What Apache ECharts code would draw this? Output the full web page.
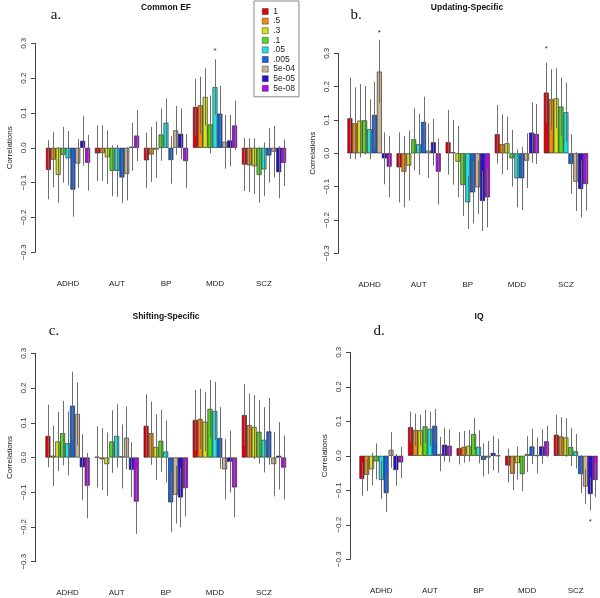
<!DOCTYPE html>
<html><head><meta charset="utf-8">
<script src="https://cdn.jsdelivr.net/npm/echarts@6/dist/echarts.min.js"></script>
<style>html,body{margin:0;padding:0;background:#fff}#c{width:600px;height:598px}</style>
</head><body><div id="c"></div>
<script>
// ---------- data ----------
const categories = ['ADHD', 'AUT', 'BP', 'MDD', 'SCZ'];
const thresholds = ['1', '.5', '.3', '.1', '.05', '.005', '5e-04', '5e-05', '5e-08'];
const yTicks = [-0.3, -0.2, -0.1, 0.0, 0.1, 0.2, 0.3];
const panelTitles = ['Common EF', 'Updating-Specific', 'Shifting-Specific', 'IQ'];
const panelLetters = ['a.', 'b.', 'c.', 'd.'];

// rows = categories, columns = thresholds
const commonEF = [
  [-0.063, -0.034, -0.078, -0.020, -0.030, -0.120, -0.045, 0.020, -0.043],
  [-0.016, -0.015, -0.027, -0.066, -0.066, -0.085, -0.075, 0.003, 0.035],
  [-0.036, -0.019, -0.005, 0.038, 0.072, -0.035, 0.050, 0.040, -0.038],
  [0.117, 0.122, 0.146, 0.067, 0.174, 0.098, 0.017, 0.021, 0.064],
  [-0.048, -0.050, -0.053, -0.078, -0.062, -0.022, -0.011, -0.070, -0.043]
];
const commonEFci = [
  [0.085, 0.079, 0.080, 0.080, 0.078, 0.078, 0.070, 0.072, 0.080],
  [0.080, 0.080, 0.077, 0.073, 0.075, 0.073, 0.076, 0.069, 0.073],
  [0.079, 0.079, 0.081, 0.075, 0.070, 0.068, 0.070, 0.073, 0.077],
  [0.081, 0.082, 0.082, 0.083, 0.080, 0.080, 0.077, 0.074, 0.071],
  [0.076, 0.077, 0.080, 0.080, 0.077, 0.078, 0.074, 0.075, 0.067]
];
const updating = [
  [0.105, 0.090, 0.098, 0.099, 0.072, 0.115, 0.245, -0.015, -0.040],
  [-0.042, -0.055, -0.037, 0.042, 0.027, 0.094, 0.008, 0.033, -0.055],
  [0.033, 0.003, -0.025, -0.095, -0.147, -0.117, -0.102, -0.143, -0.132],
  [0.057, 0.027, 0.030, -0.015, -0.075, -0.075, -0.022, 0.062, 0.058],
  [0.182, 0.162, 0.165, 0.140, 0.123, -0.032, -0.085, -0.107, -0.092]
];
const updatingCi = [
  [0.122, 0.108, 0.110, 0.103, 0.090, 0.100, 0.095, 0.078, 0.092],
  [0.105, 0.107, 0.105, 0.093, 0.092, 0.076, 0.082, 0.070, 0.099],
  [0.097, 0.097, 0.107, 0.093, 0.080, 0.093, 0.080, 0.090, 0.090],
  [0.088, 0.090, 0.080, 0.085, 0.087, 0.095, 0.082, 0.090, 0.090],
  [0.090, 0.090, 0.090, 0.087, 0.089, 0.089, 0.088, 0.085, 0.080]
];
const shifting = [
  [0.062, 0.005, 0.046, 0.070, 0.041, 0.149, 0.125, -0.028, -0.081],
  [0.002, -0.005, -0.019, 0.046, 0.062, 0.003, 0.057, -0.035, -0.127],
  [0.091, 0.070, 0.030, 0.048, 0.017, -0.129, -0.107, -0.115, -0.088],
  [0.108, 0.111, 0.103, 0.140, 0.134, 0.056, -0.034, -0.012, -0.086],
  [0.122, 0.093, 0.088, 0.074, 0.051, 0.075, -0.019, 0.005, -0.029]
];
const shiftingCi = [
  [0.090, 0.087, 0.085, 0.093, 0.092, 0.098, 0.091, 0.095, 0.094],
  [0.088, 0.089, 0.091, 0.090, 0.091, 0.092, 0.090, 0.079, 0.093],
  [0.091, 0.091, 0.094, 0.090, 0.089, 0.086, 0.083, 0.086, 0.082],
  [0.087, 0.087, 0.085, 0.083, 0.084, 0.089, 0.087, 0.089, 0.086],
  [0.089, 0.091, 0.092, 0.092, 0.094, 0.096, 0.093, 0.097, 0.092]
];
const iq = [
  [-0.067, -0.055, -0.039, -0.016, -0.070, -0.108, 0.017, -0.041, -0.019],
  [0.083, 0.075, 0.074, 0.085, 0.078, 0.087, 0.005, 0.032, 0.029],
  [0.022, 0.026, 0.029, 0.063, 0.026, -0.012, -0.005, 0.008, 0.000],
  [-0.028, -0.052, -0.021, -0.053, 0.005, 0.027, 0.001, 0.027, 0.042],
  [0.061, 0.056, 0.053, 0.025, 0.013, -0.053, -0.089, -0.111, -0.070]
];
const iqCi = [
  [0.049, 0.047, 0.047, 0.052, 0.055, 0.055, 0.052, 0.046, 0.045],
  [0.045, 0.047, 0.045, 0.048, 0.050, 0.049, 0.050, 0.049, 0.048],
  [0.047, 0.046, 0.046, 0.047, 0.048, 0.048, 0.048, 0.050, 0.049],
  [0.049, 0.048, 0.048, 0.050, 0.052, 0.051, 0.052, 0.050, 0.045],
  [0.058, 0.056, 0.056, 0.055, 0.050, 0.055, 0.051, 0.048, 0.050]
];
// significance marks: [panel, category, threshold, y]
const stars = [
  [0, 3, 4, 0.283],
  [1, 0, 6, 0.368],
  [1, 4, 0, 0.320],
  [3, 4, 7, -0.186]
];

// ---------- styling / layout ----------
const colors = ['#E3000F', '#F08A12', '#D2E41A', '#4FDC1C', '#1FE3E3', '#1B63DE', '#C9B593', '#2B0CD8', '#B20CE6'];
const panelValues = [commonEF, updating, shifting, iq];
const panelCi = [commonEFci, updatingCi, shiftingCi, iqCi];
const layout = [
  { left: 43.5, top: 43.3, width: 245, height: 209, axisX: 35, titleX: 166, titleY: 8, letterX: 56, letterY: 15 },
  { left: 345, top: 53.3, width: 245.5, height: 200, axisX: 338, titleX: 467, titleY: 8, letterX: 356, letterY: 15 },
  { left: 43, top: 353.3, width: 245.5, height: 208.4, axisX: 35, titleX: 166, titleY: 317, letterX: 54, letterY: 331 },
  { left: 357, top: 352.3, width: 244, height: 207, axisX: 350, titleX: 479, titleY: 317, letterX: 379, letterY: 331 }
];
const SANS = '"Liberation Sans", Arial, sans-serif';
const SERIF = '"Liberation Serif", "DejaVu Serif", serif';

const grids = [], xAxes = [], yAxes = [], series = [], graphics = [];
layout.forEach((L, p) => {
  grids.push({ left: L.left, top: L.top, width: L.width, height: L.height, containLabel: false });
  xAxes.push({
    type: 'category', gridIndex: p, data: categories,
    axisLine: { show: false }, axisTick: { show: false },
    axisLabel: { fontSize: 8, color: '#222', margin: 27, fontFamily: SANS },
    splitLine: { show: false }
  });
  yAxes.push({
    type: 'value', gridIndex: p, min: yTicks[0], max: yTicks[yTicks.length - 1], interval: 0.1,
    offset: L.left - L.axisX,
    name: 'Correlations', nameLocation: 'middle', nameGap: 21,
    nameTextStyle: { fontSize: 8, color: '#222', fontFamily: SANS },
    axisLine: { show: true, lineStyle: { color: '#444', width: 1 } },
    axisTick: { show: true, length: 4, lineStyle: { color: '#444', width: 1 } },
    axisLabel: {
      rotate: 90, fontSize: 8, color: '#333', margin: 7, fontFamily: SANS,
      formatter: v => (v < -1e-9 ? '\u2212' : '') + Math.abs(v).toFixed(1)
    },
    splitLine: { show: false }
  });
  const vals = panelValues[p];
  thresholds.forEach((name, s) => {
    series.push({
      type: 'bar', name: name, xAxisIndex: p, yAxisIndex: p,
      data: vals.map(row => row[s]),
      barGap: 0, barCategoryGap: '10%',
      itemStyle: { color: colors[s], borderColor: '#1a1a1a', borderWidth: 0.6 },
      emphasis: { disabled: true }, silent: true
    });
  });
  const ebData = [];
  vals.forEach((row, g) => row.forEach((v, s) => ebData.push([g, s, v, panelCi[p][g][s]])));
  series.push({
    type: 'custom', xAxisIndex: p, yAxisIndex: p, z: 5, silent: true, clip: false,
    encode: { x: 0, y: 2 },
    data: ebData,
    renderItem: (params, api) => {
      const g = api.value(0), s = api.value(1), v = api.value(2), e = api.value(3);
      const c = api.coord([g, 0]);
      const band = api.size([1, 0])[0];
      const bw = band * 0.9 / 9;
      const x = Math.round(c[0] - band * 0.45 + (s + 0.5) * bw) + 0.5;
      const y1 = api.coord([g, v - e])[1], y2 = api.coord([g, v + e])[1];
      return { type: 'line', shape: { x1: x, y1: y1, x2: x, y2: y2 }, style: { stroke: '#6e6e6e', lineWidth: 1 } };
    }
  });
  const sData = stars.filter(st => st[0] === p).map(st => [st[1], st[2], st[3]]);
  if (sData.length) {
    series.push({
      type: 'custom', xAxisIndex: p, yAxisIndex: p, z: 6, silent: true, clip: false,
      encode: { x: 0, y: 2 },
      data: sData,
      renderItem: (params, api) => {
        const g = api.value(0), s = api.value(1), y = api.value(2);
        const c = api.coord([g, y]);
        const band = api.size([1, 0])[0];
        const bw = band * 0.9 / 9;
        const x = c[0] - band * 0.45 + (s + 0.5) * bw;
        return { type: 'text', x: x, y: c[1] + 2, style: { text: '*', fontSize: 8, fill: '#333', fontFamily: SANS, textAlign: 'center', textVerticalAlign: 'middle' } };
      }
    });
  }
  graphics.push({ type: 'text', x: L.titleX, y: L.titleY, style: { text: panelTitles[p], font: 'bold 8.5px ' + SANS, fill: '#111', textAlign: 'center', textVerticalAlign: 'middle' } });
  graphics.push({ type: 'text', x: L.letterX, y: L.letterY, style: { text: panelLetters[p], font: '15px ' + SERIF, fill: '#111', textAlign: 'center', textVerticalAlign: 'middle' } });
});

const chart = echarts.init(document.getElementById('c'), null, { renderer: 'canvas' });
chart.setOption({
  animation: false,
  backgroundColor: '#fff',
  grid: grids, xAxis: xAxes, yAxis: yAxes, series: series,
  legend: {
    data: thresholds, orient: 'vertical', left: 254, top: 1,
    icon: 'rect', itemWidth: 6, itemHeight: 6, itemGap: 0.6,
    padding: [6, 4, 4, 8], borderColor: '#888', borderWidth: 1,
    selectedMode: false,
    itemStyle: { borderColor: '#333', borderWidth: 0.5 },
    textStyle: { fontSize: 8.5, color: '#222', lineHeight: 9, fontFamily: SANS }
  },
  graphic: graphics
});
</script></body></html>
